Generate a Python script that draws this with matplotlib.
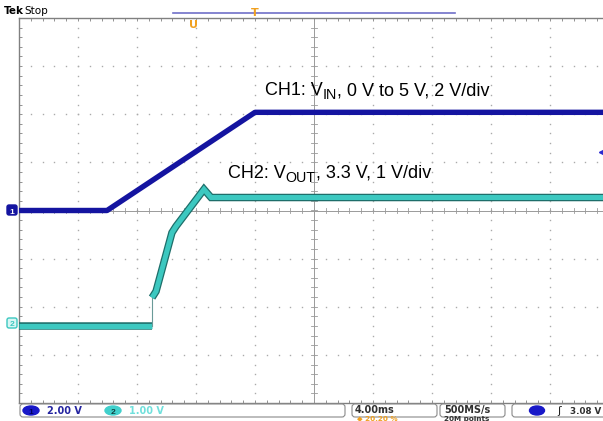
import numpy as np
import matplotlib
matplotlib.use('Agg')
import matplotlib.pyplot as plt
import matplotlib.patheffects as pe
from matplotlib.patches import FancyBboxPatch, Ellipse

plt.rcParams['font.family'] = ['Liberation Sans', 'DejaVu Sans']

# scope settings
ms_per_div = 4.0
ch1_v_per_div = 2.0
ch2_v_per_div = 1.0
ch2_offset_div = -2.39

# CH1 (VIN) in ms / V
ch1_t = [0.0, 5.97, 16.0, 39.6]
ch1_v = [0.0, 0.0, 4.08, 4.08]

# CH2 (VOUT) in ms / V
ch2_t = [0.0, 9.02, 9.02, 9.29, 10.37, 10.64, 12.54, 13.02, 39.6]
ch2_v = [0.0, 0.0, 0.58, 0.71, 1.93, 2.06, 2.83, 2.66, 2.66]

W, H = 603, 421
fig = plt.figure(figsize=(W / 100, H / 100), dpi=100)
fig.patch.set_facecolor('white')

# screen area in pixels
x0, x1, y0, y1 = 19, 603, 18, 403
px_div_x = 59.0
ax = fig.add_axes([x0 / W, 1 - y1 / H, (x1 - x0) / W, (y1 - y0) / H])
ax.set_xlim(0, (x1 - x0) / px_div_x)
ax.set_ylim(-4, 4)
ax.set_facecolor('white')
for s in ['top', 'left', 'bottom']:
    ax.spines[s].set_color('#808080')
    ax.spines[s].set_linewidth(1.0)
ax.spines['right'].set_visible(False)
ax.set_xticks(np.arange(0, 9.9, 0.2))
ax.set_yticks(np.arange(-4, 4.01, 0.2))
ax.tick_params(direction='in', length=2.5, width=0.6, color='#808080',
               top=True, bottom=True, left=True, right=False,
               labelbottom=False, labelleft=False)

# dotted graticule
dots = np.arange(-4, 4.01, 0.2)
for k in range(1, 10):
    if k != 5:
        ax.plot([k] * len(dots), dots, ls='none', marker='s', ms=1.0,
                color='#aaaaaa', mew=0)
hdots = np.arange(0, 9.9, 0.2)
for k in [-3, -2, -1, 1, 2, 3]:
    ax.plot(hdots, [k] * len(hdots), ls='none', marker='s', ms=1.0,
            color='#aaaaaa', mew=0)

# centre cross with ticks
ax.axvline(5, color='#9a9a9a', lw=0.7)
ax.axhline(0, color='#9a9a9a', lw=0.7)
for yy in dots:
    ax.plot([4.95, 5.05], [yy, yy], color='#9a9a9a', lw=0.6)
for xx in hdots:
    ax.plot([xx, xx], [-0.06, 0.06], color='#9a9a9a', lw=0.6)

# traces
ch1_x = np.array(ch1_t) / ms_per_div
ch1_y = np.array(ch1_v) / ch1_v_per_div
ch2_x = np.array(ch2_t) / ms_per_div
ch2_y = np.array(ch2_v) / ch2_v_per_div + ch2_offset_div

ch2_fx = [pe.Stroke(linewidth=5.4, foreground='#1e6e6a'), pe.Normal()]
ax.plot(ch2_x[:2], ch2_y[:2], color='#3cc8c0', lw=3.8, solid_capstyle='butt',
        path_effects=ch2_fx, zorder=5)
ax.plot(ch2_x[1:3], ch2_y[1:3], color='#6a9a98', lw=0.8, zorder=5)
ax.plot(ch2_x[2:], ch2_y[2:], color='#3cc8c0', lw=3.6, solid_joinstyle='miter',
        solid_capstyle='butt', path_effects=ch2_fx, zorder=5)
ax.plot(ch1_x, ch1_y, color='#1414a0', lw=3.9, zorder=6)

# overlay in figure pixels for scope chrome and labels
ov = fig.add_axes([0, 0, 1, 1], facecolor='none')
ov.set_xlim(0, W)
ov.set_ylim(H, 0)
ov.axis('off')


def label(x, y, main, sub, rest, size=13.0, subsize=10.3):
    # write "main" + subscript + "rest" as real text pieces side by side
    r = fig.canvas.get_renderer()
    t1 = ov.text(x, y, main, fontsize=size, color='black', zorder=7)
    w1 = t1.get_window_extent(r).width
    t2 = ov.text(x + w1, y + 4, sub, fontsize=subsize, color='black', zorder=7)
    w2 = t2.get_window_extent(r).width
    ov.text(x + w1 + w2, y, rest, fontsize=size, color='black', zorder=7)


fig.canvas.draw()
label(265, 95, 'CH1: V', 'IN', ', 0 V to 5 V, 2 V/div')
label(228, 178, 'CH2: V', 'OUT', ', 3.3 V, 1 V/div')

ov.text(4, 14, 'Tek', fontsize=7.5, fontweight='bold', family='DejaVu Sans')
ov.text(24, 14, 'Stop', fontsize=7.5, family='DejaVu Sans')
ov.plot([173, 455], [13, 13], color='#7070c8', lw=1.2)
ov.text(193, 28, 'U', fontsize=8, color='#f0a020', fontweight='bold',
        ha='center', family='DejaVu Sans')
ov.text(255, 16, 'T', fontsize=8, color='#f0a020', fontweight='bold',
        ha='center', family='DejaVu Sans')

# channel ground markers
ov.add_patch(FancyBboxPatch((7, 205), 10, 10, boxstyle='round,pad=0,rounding_size=2',
                            fc='#1414a0', ec='#1414a0'))
ov.text(12, 213.5, '1', fontsize=6, color='white', ha='center', fontweight='bold')
ov.add_patch(FancyBboxPatch((7, 318), 10, 10, boxstyle='round,pad=0,rounding_size=2',
                            fc='#d8f6f4', ec='#3cc8c0', lw=1))
ov.text(12, 326.5, '2', fontsize=6, color='#3cc8c0', ha='center', fontweight='bold')
ov.plot([601], [152], marker='<', color='#2a2ad0', ms=3)

# status bar
for bx, bw in [(20, 325), (352, 85), (440, 65), (512, 100)]:
    ov.add_patch(FancyBboxPatch((bx, 404), bw, 13, boxstyle='round,pad=0,rounding_size=3',
                                fc='white', ec='#8a8a8a', lw=0.8))
ov.add_patch(Ellipse((31, 410.5), 16, 9, fc='#1818c8', ec='#1818c8'))
ov.text(31, 413.5, '1', fontsize=6, color='#000060', ha='center', fontweight='bold')
ov.text(47, 414, '2.00 V', fontsize=7, color='#2424a0', fontweight='bold',
        family='DejaVu Sans')
ov.add_patch(Ellipse((113, 410.5), 16, 9, fc='#40d0cc', ec='#40d0cc'))
ov.text(113, 413.5, '2', fontsize=6, color='#104040', ha='center', fontweight='bold')
ov.text(129, 414, '1.00 V', fontsize=7, color='#70e0dc', fontweight='bold',
        family='DejaVu Sans')
ov.text(355, 413, '4.00ms', fontsize=7, color='#303030', fontweight='bold',
        family='DejaVu Sans')
ov.text(357, 420.5, '\u25c6 20.20 %', fontsize=5.2, color='#f0a020', fontweight='bold',
        family='DejaVu Sans')
ov.text(444, 413, '500MS/s', fontsize=7, color='#303030', fontweight='bold',
        family='DejaVu Sans')
ov.text(444, 420.5, '20M points', fontsize=5.2, color='#303030', fontweight='bold',
        family='DejaVu Sans')
ov.add_patch(Ellipse((537, 410.5), 15, 9, fc='#1818c8', ec='#1818c8'))
ov.text(557, 414, '\u0283', fontsize=8, color='#202020', family='DejaVu Sans')
ov.text(570, 413.5, '3.08 V', fontsize=6.3, color='#303030', fontweight='bold',
        family='DejaVu Sans')

fig.savefig('out.png', dpi=100)
